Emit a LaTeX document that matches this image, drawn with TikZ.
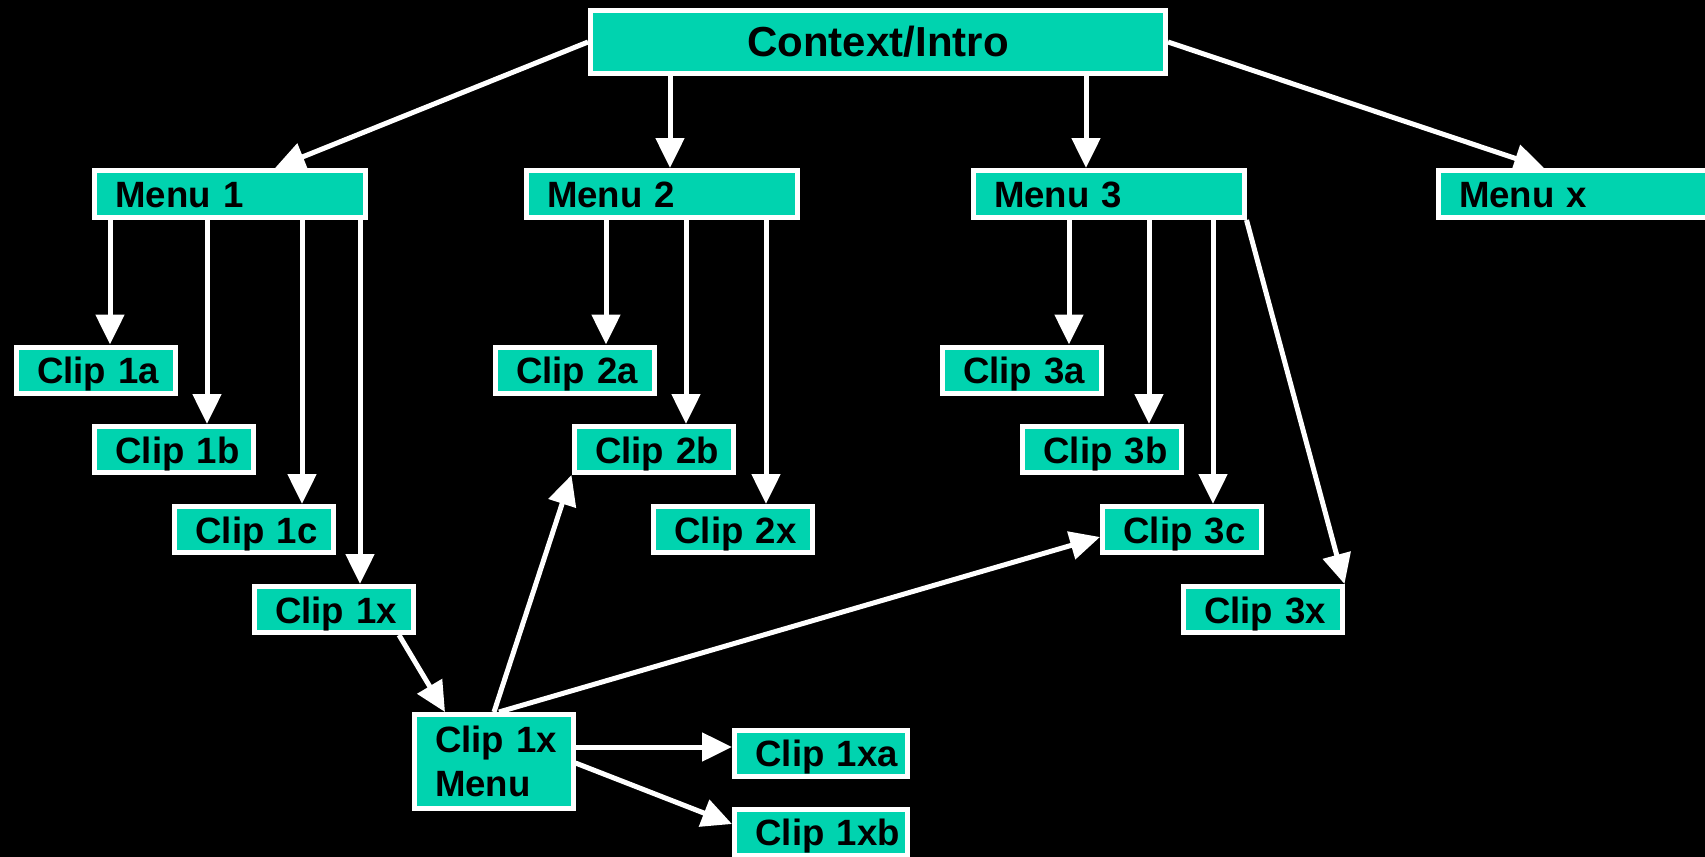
\documentclass[tikz,border=0pt]{standalone}
\usepackage{fontspec}
\setmainfont{Liberation Sans}
\usepackage{xcolor}
\definecolor{cTeal}{HTML}{00D3AF}
\usetikzlibrary{positioning,arrows.meta}
\tikzset{
  node-box/.style={draw=white,line width=2.5pt,fill=cTeal,text=black,
    inner xsep=10.5pt,inner ysep=0pt,align=left,
    font=\bfseries\fontsize{18.3}{22}\selectfont},
  node-line/.style={text height=13.6pt,text depth=0pt},
  node-clip/.style={node-box,node-line,text width=58.5pt,minimum height=23pt},
  node-clipw/.style={node-box,node-line,text width=65.5pt,minimum height=23pt},
  node-menu/.style={node-box,node-line,text width=114.5pt,minimum height=23.5pt},
  node-top/.style={draw=white,line width=2.5pt,fill=cTeal,text=black,
    minimum width=287.5pt,minimum height=31.5pt,inner sep=0pt,
    font=\bfseries\fontsize{21}{25}\selectfont},
  arrow/.style={-{Triangle[length=15pt,width=14pt]},line width=2.5pt,draw=white},
}
\begin{document}
\begin{tikzpicture}[x=0.5pt,y=-0.5pt]
  \path[use as bounding box,fill=black] (0,0) rectangle (1705,857);

  \node[node-top] (ctx) at (878,42) {Context/Intro};
  \node[node-menu] (m1) at (230,194) {Menu~1};
  \node[node-menu] (m2) at (661.5,194) {Menu~2};
  \node[node-menu] (m3) at (1108.5,194) {Menu~3};
  \node[node-menu] (mx) at (1573.5,194) {Menu~x};

  \node[node-clip] (c1a) at (95.5,370) {Clip~1a};
  \node[node-clip] (c1b) at (174,449.5) {Clip~1b};
  \node[node-clip] (c1c) at (254,529.5) {Clip~1c};
  \node[node-clip] (c1x) at (333.5,609.5) {Clip~1x};
  \node[node-clip] (c2a) at (574.5,370) {Clip~2a};
  \node[node-clip] (c2b) at (653.5,449.5) {Clip~2b};
  \node[node-clip] (c2x) at (733,529.5) {Clip~2x};
  \node[node-clip] (c3a) at (1021.5,370) {Clip~3a};
  \node[node-clip] (c3b) at (1102,449.5) {Clip~3b};
  \node[node-clip] (c3c) at (1182,529.5) {Clip~3c};
  \node[node-clip] (c3x) at (1262.5,609.5) {Clip~3x};

  \node[node-box,text width=58.5pt,minimum height=47pt] (c1xm) at (493.5,761.5) {Clip~1x\\Menu};
  \node[node-clipw] (c1xa) at (821,753) {Clip~1xa};
  \node[node-clipw] (c1xb) at (821,832) {Clip~1xb};

  % top level
  \draw[arrow] (ctx.west) -- (m1.north -| 275,0);
  \draw[arrow] (ctx.south -| 670,0) -- (m2.north -| 670,0);
  \draw[arrow] (ctx.south -| 1086,0) -- (m3.north -| 1086,0);
  \draw[arrow] (ctx.east) -- (mx.north -| 1544,0);

  % menu 1
  \draw[arrow] (m1.south -| 110,0) -- (c1a.north -| 110,0);
  \draw[arrow] (m1.south -| 207,0) -- (c1b.north -| 207,0);
  \draw[arrow] (m1.south -| 302,0) -- (c1c.north -| 302,0);
  \draw[arrow] (m1.south -| 360,0) -- (c1x.north -| 360,0);

  % menu 2
  \draw[arrow] (m2.south -| 606,0) -- (c2a.north -| 606,0);
  \draw[arrow] (m2.south -| 686,0) -- (c2b.north -| 686,0);
  \draw[arrow] (m2.south -| 766,0) -- (c2x.north -| 766,0);

  % menu 3
  \draw[arrow] (m3.south -| 1069,0) -- (c3a.north -| 1069,0);
  \draw[arrow] (m3.south -| 1149,0) -- (c3b.north -| 1149,0);
  \draw[arrow] (m3.south -| 1213,0) -- (c3c.north -| 1213,0);
  \draw[arrow] (m3.south east) -- (c3x.north east);

  % clip 1x menu
  \draw[arrow] (c1x.south -| 399,0) -- (c1xm.north -| 445,0);
  \draw[arrow] (c1xm.north -| 494,0) -- (c2b.south west);
  \draw[arrow] (c1xm.north -| 499,0) -- (c3c.west |- 0,537);
  \draw[arrow] (c1xm.east |- 0,747) -- (c1xa.west |- 0,747);
  \draw[arrow] (c1xm.east |- 0,763) -- (c1xb.west |- 0,824);
\end{tikzpicture}
\end{document}
